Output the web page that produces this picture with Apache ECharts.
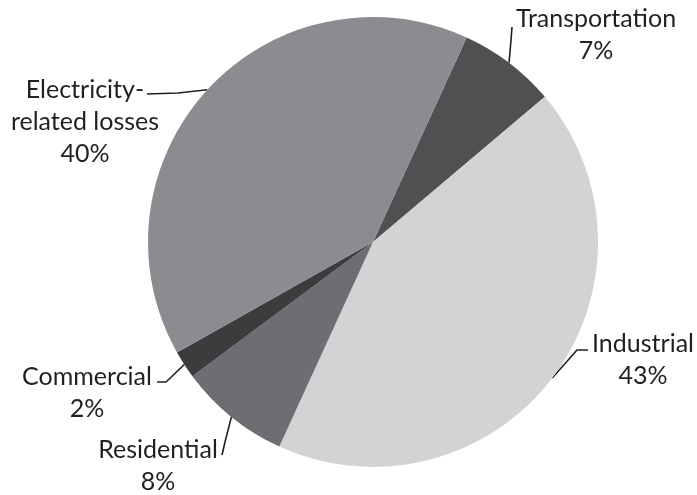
<!DOCTYPE html>
<html>
<head>
<meta charset="utf-8">
<script src="https://cdn.jsdelivr.net/npm/echarts@6/dist/echarts.min.js"></script>
<style>html,body{margin:0;padding:0;background:#fff;}#c{width:697px;height:495px;}</style>
</head>
<body>
<div id="c"></div>
<script>
var categories = ['Transportation', 'Industrial', 'Residential', 'Commercial', 'Electricity-\nrelated losses'];
var values = [7, 43, 8, 2, 40];
var colors = ['#505053', '#d2d3d5', '#6d6e72', '#3c3c3e', '#8b8c90'];
// label layout (centers) and leader-line bend/end points
var labelPos = [[596, 35], [643, 360], [158, 466], [87, 393], [85, 122]];
var leaderBend = [[511, 40], [577, 350], [225, 442], [166, 382], [178, 93]];
var leaderEnd = [[512, 27], [588, 350], [222, 455], [157, 382], [147, 94]];

var chart = echarts.init(document.getElementById('c'), null, {renderer: 'canvas'});
chart.setOption({
  animation: false,
  series: [{
    type: 'pie',
    center: [373, 242],
    radius: 225,
    startAngle: 65.4,
    clockwise: true,
    avoidLabelOverlap: false,
    data: categories.map(function (n, i) {
      return {name: n, value: values[i], itemStyle: {color: colors[i]}};
    }),
    label: {
      show: true,
      formatter: '{b}\n{c}%',
      fontFamily: 'Lato',
      fontSize: 25,
      lineHeight: 32,
      color: '#231f20',
      align: 'center'
    },
    labelLine: {
      show: true,
      length: 10,
      length2: 10,
      lineStyle: {color: '#231f20', width: 1.6}
    },
    labelLayout: function (p) {
      var i = p.dataIndex;
      var lp = labelPos[i];
      var start = p.labelLinePoints ? p.labelLinePoints[0] : null;
      var res = {x: lp[0], y: lp[1], align: 'center', verticalAlign: 'middle'};
      if (start) {
        res.labelLinePoints = [start, leaderBend[i], leaderEnd[i]];
      }
      return res;
    }
  }]
});
</script>
</body>
</html>
